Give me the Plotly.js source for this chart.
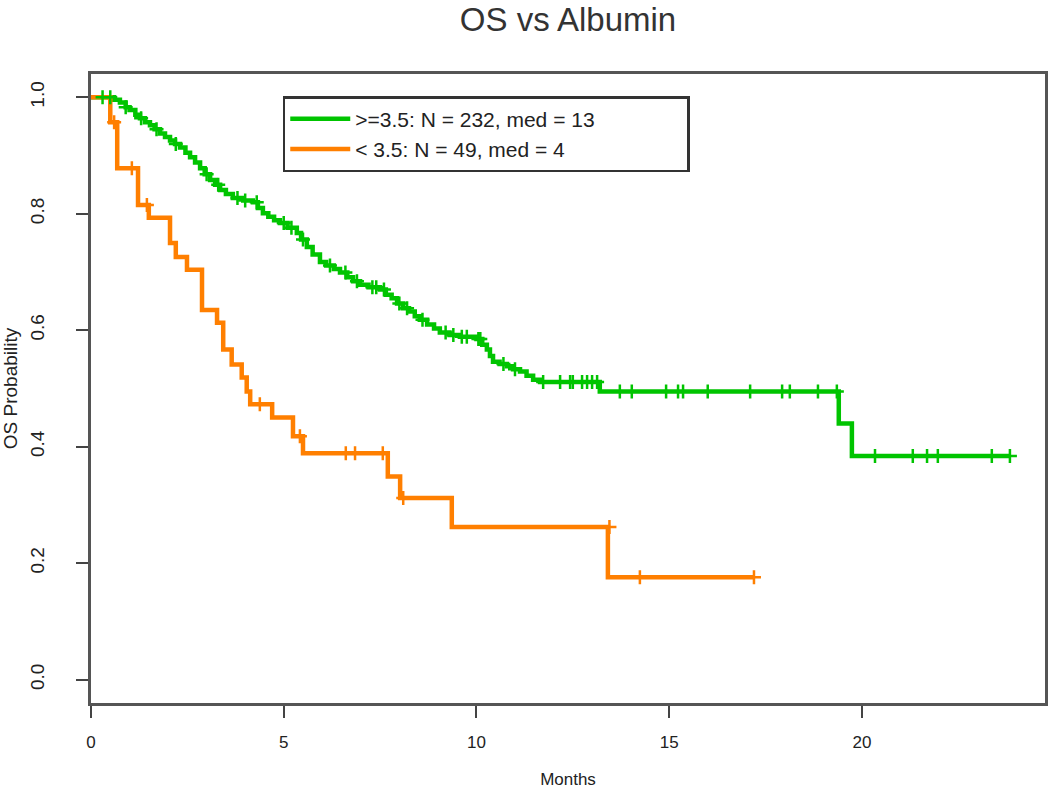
<!DOCTYPE html>
<html>
<head>
<meta charset="utf-8">
<script src="https://cdn.plot.ly/plotly-3.0.1.min.js"></script>
<style>
  html, body { margin: 0; padding: 0; background: #fff; }
  #chart { width: 1050px; height: 798px; }
</style>
</head>
<body>
<div id="chart"></div>
<script>
// Kaplan-Meier steps (months, survival)
const hiTime = [0, 0.6, 0.75, 0.9, 1.0, 1.15, 1.27, 1.4, 1.53, 1.65, 1.79, 1.92, 2.05, 2.18, 2.31, 2.45, 2.57, 2.7, 2.83, 2.95,
  3.09, 3.22, 3.35, 3.5, 3.68, 3.95, 4.2, 4.33, 4.46, 4.6, 4.75, 4.9, 5.1, 5.34, 5.45, 5.6, 5.75, 5.94, 6.1, 6.3,
  6.46, 6.65, 6.8, 6.98, 7.2, 7.5, 7.65, 7.8, 7.94, 8.1, 8.25, 8.4, 8.53, 8.72, 8.9, 9.05, 9.3, 9.57, 10.0, 10.15,
  10.27, 10.35, 10.43, 10.6, 10.79, 10.95, 11.13, 11.3, 11.47, 11.65, 13.2, 19.4, 19.74, 23.84];
const hiSurv = [1.0, 0.996, 0.991, 0.983, 0.978, 0.97, 0.964, 0.957, 0.952, 0.945, 0.938, 0.932, 0.926, 0.92, 0.914, 0.905, 0.897, 0.888, 0.878, 0.868,
  0.858, 0.85, 0.841, 0.834, 0.827, 0.823, 0.82, 0.81, 0.801, 0.795, 0.789, 0.784, 0.776, 0.767, 0.756, 0.743, 0.73, 0.717, 0.711, 0.705,
  0.699, 0.691, 0.684, 0.678, 0.674, 0.67, 0.661, 0.655, 0.646, 0.638, 0.632, 0.624, 0.618, 0.61, 0.603, 0.596, 0.592, 0.589, 0.585, 0.575,
  0.567, 0.556, 0.546, 0.542, 0.538, 0.533, 0.529, 0.522, 0.515, 0.511, 0.495, 0.44, 0.384, 0.384];
const hiCensTime = [0.3, 0.5, 0.9, 1.3, 1.7, 2.2, 3.0, 3.3, 3.8, 4.0, 4.3, 5.0, 5.2, 5.5, 6.2, 6.6, 6.9, 7.3, 7.4, 7.6,
  8.0, 8.2, 8.6, 9.2, 9.4, 9.62, 9.75, 10.05, 10.1, 10.7, 11.0, 11.73, 12.17, 12.43, 12.5, 12.74, 12.87, 13.0, 13.13,
  13.72, 14.03, 14.92, 15.23, 15.36, 16.0, 17.1, 17.93, 18.13, 18.86, 19.35, 20.34, 21.32, 21.69, 21.97, 23.37, 23.84];
const hiCensSurv = [1.0, 1.0, 0.983, 0.964, 0.945, 0.92, 0.868, 0.85, 0.827, 0.823, 0.82, 0.784, 0.776, 0.756, 0.711, 0.699, 0.684, 0.674, 0.674, 0.67,
  0.646, 0.638, 0.618, 0.596, 0.592, 0.589, 0.589, 0.585, 0.585, 0.542, 0.533, 0.511, 0.511, 0.511, 0.511, 0.511, 0.511, 0.511, 0.511,
  0.495, 0.495, 0.495, 0.495, 0.495, 0.495, 0.495, 0.495, 0.495, 0.495, 0.495, 0.384, 0.384, 0.384, 0.384, 0.384, 0.384];

const loTime = [0, 0.5, 0.68, 1.22, 1.5, 2.05, 2.2, 2.49, 2.88, 3.27, 3.43, 3.65, 3.91, 4.04, 4.13, 4.7, 5.24, 5.5, 7.7, 8.02, 9.36, 13.41, 17.2];
const loSurv = [1.0, 0.957, 0.878, 0.815, 0.793, 0.75, 0.726, 0.704, 0.635, 0.613, 0.567, 0.541, 0.519, 0.495, 0.473, 0.45, 0.418, 0.389, 0.349, 0.312, 0.262, 0.176, 0.176];
const loCensTime = [0.6, 1.06, 1.45, 4.38, 5.42, 6.61, 6.85, 7.57, 8.1, 13.45, 14.24, 17.2];
const loCensSurv = [0.957, 0.878, 0.815, 0.473, 0.418, 0.389, 0.389, 0.389, 0.312, 0.262, 0.176, 0.176];

const groupNames = ['>=3.5: N = 232, med = 13', '< 3.5: N = 49, med = 4'];
const groupColors = ['#00c400', '#ff7f00'];
const xTicks = [0, 5, 10, 15, 20];
const yTicks = [0, 0.2, 0.4, 0.6, 0.8, 1.0];

const font = '"Liberation Sans", Arial, sans-serif';

function stepTrace(x, y, i) {
  return {
    x: x, y: y, type: 'scatter', mode: 'lines',
    // trailing spaces widen the legend box like the original
    name: groupNames[i] + '\u00a0'.repeat(i === 0 ? 15 : 1),
    line: { shape: 'hv', color: groupColors[i], width: 4.5 },
    hoverinfo: 'x+y'
  };
}
function censTrace(x, y, i) {
  return {
    x: x, y: y, type: 'scatter', mode: 'markers', showlegend: false,
    marker: { symbol: 'cross-thin', size: 10, line: { color: groupColors[i], width: 2.5 } },
    hoverinfo: 'x+y'
  };
}

const data = [
  stepTrace(hiTime, hiSurv, 0),
  stepTrace(loTime, loSurv, 1),
  censTrace(hiCensTime, hiCensSurv, 0),
  censTrace(loCensTime, loCensSurv, 1)
];

const axisCommon = {
  showgrid: false, zeroline: false, showline: true, mirror: true,
  linecolor: '#555', linewidth: 3,
  ticks: 'outside', ticklen: 12, tickwidth: 2, tickcolor: '#444'
};

const layout = {
  width: 1050, height: 798,
  paper_bgcolor: '#fff', plot_bgcolor: '#fff',
  margin: { l: 91, r: 5, t: 74, b: 95 },
  title: {
    text: 'OS vs Albumin', x: 0.5, xref: 'paper', y: 0.976, yref: 'container', yanchor: 'middle',
    font: { family: font, size: 33, color: '#333' }
  },
  xaxis: Object.assign({}, axisCommon, {
    range: [0, 24.75], tickvals: xTicks, ticktext: xTicks.map(String),
    ticklabelstandoff: 10,
    tickfont: { family: font, size: 17, color: '#222' },
    title: { text: 'Months', standoff: 22, font: { family: font, size: 17, color: '#222' } }
  }),
  yaxis: Object.assign({}, axisCommon, {
    range: [-0.04, 1.04], tickvals: yTicks, ticktext: yTicks.map(v => v.toFixed(1)),
    tickangle: -90, ticklabelstandoff: 24,
    tickfont: { family: font, size: 19, color: '#222' },
    title: { text: 'OS Probability', standoff: 8, font: { family: font, size: 19, color: '#222' } }
  }),
  showlegend: true,
  legend: {
    x: 0.201, y: 0.965, xanchor: 'left', yanchor: 'top',
    bgcolor: '#fff', bordercolor: '#333', borderwidth: 2.5,
    font: { family: font, size: 21, color: '#222' },
    itemwidth: 60
  }
};

Plotly.newPlot('chart', data, layout, { displayModeBar: false, staticPlot: true });
</script>
</body>
</html>
